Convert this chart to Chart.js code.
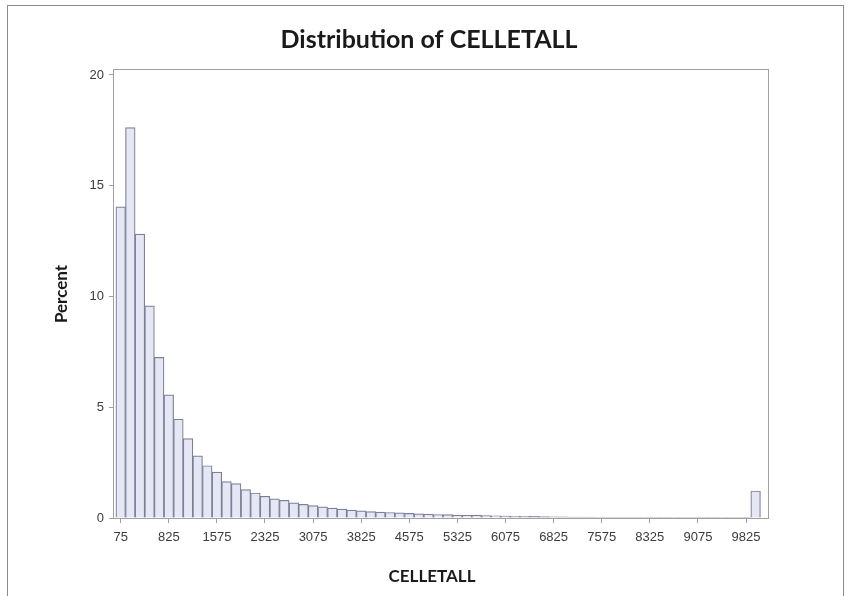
<!DOCTYPE html>
<html>
<head>
<meta charset="utf-8">
<script src="https://cdn.jsdelivr.net/npm/chart.js@4.4.0/dist/chart.umd.min.js"></script>
<style>
  html, body { margin: 0; padding: 0; background: #fff; }
  #wrap { width: 851px; height: 596px; position: relative; }
</style>
</head>
<body>
<div id="wrap"><canvas id="histChart" width="851" height="596"></canvas></div>
<script>
'use strict';
// ===================== data =====================
const binMidpoints = [
    75, 225, 375, 525, 675, 825, 975, 1125, 1275, 1425,
    1575, 1725, 1875, 2025, 2175, 2325, 2475, 2625, 2775, 2925,
    3075, 3225, 3375, 3525, 3675, 3825, 3975, 4125, 4275, 4425,
    4575, 4725, 4875, 5025, 5175, 5325, 5475, 5625, 5775, 5925,
    6075, 6225, 6375, 6525, 6675, 6825, 6975, 7125, 7275, 7425,
    7575, 7725, 7875, 8025, 8175, 8325, 8475, 8625, 8775, 8925,
    9075, 9225, 9375, 9525, 9675, 9825, 9975
];
const percentValues = [
    14.05, 17.62, 12.82, 9.58, 7.25, 5.56, 4.46, 3.58, 2.81, 2.36,
    2.07, 1.64, 1.55, 1.28, 1.13, 0.98, 0.86, 0.80, 0.68, 0.62,
    0.56, 0.50, 0.45, 0.40, 0.36, 0.32, 0.29, 0.27, 0.25, 0.23,
    0.21, 0.19, 0.17, 0.16, 0.15, 0.13, 0.12, 0.13, 0.11, 0.10,
    0.09, 0.08, 0.08, 0.07, 0.06, 0.05, 0.05, 0.04, 0.04, 0.04,
    0.03, 0.03, 0.03, 0.03, 0.03, 0.02, 0.02, 0.02, 0.02, 0.02,
    0.02, 0.02, 0.02, 0.02, 0.02, 0.02, 1.22
];
const xTickValues = [75, 825, 1575, 2325, 3075, 3825, 4575, 5325, 6075, 6825, 7575, 8325, 9075, 9825];
const yTickValues = [0, 5, 10, 15, 20];

const chartTitle = 'Distribution of CELLETALL';
const xTitle = 'CELLETALL';
const yTitle = 'Percent';

// ===================== chart =====================
const barFill   = '#e6e7f4';
const barLine   = '#7c7f96';
const frameGray = '#a0a0a0';
const tickText  = '#3c3c3c';

// frame + titles, drawn on top
const framePlugin = {
    id: 'framePlugin',
    afterDraw(chart) {
        const { ctx, chartArea: a } = chart;
        ctx.save();
        ctx.strokeStyle = frameGray;
        ctx.lineWidth = 1;
        ctx.strokeRect(a.left + 0.5, a.top + 0.5, a.right - a.left, a.bottom - a.top);
        ctx.strokeStyle = '#8a8a8a';
        ctx.strokeRect(7.5, 5.5, 836, 600);

        ctx.fillStyle = '#1a1a1a';
        ctx.textAlign = 'center';
        ctx.textBaseline = 'middle';
        ctx.font = 'bold 25px Lato';
        ctx.fillText(chartTitle, 429, 40);
        ctx.font = 'bold 17px Lato';
        ctx.fillText(xTitle, 432, 577);
        ctx.translate(62, 294);
        ctx.rotate(-Math.PI / 2);
        ctx.fillText(yTitle, 0, 0);
        ctx.restore();
    }
};

const tickFont = { family: 'Liberation Sans', size: 13 };

new Chart(document.getElementById('histChart').getContext('2d'), {
    type: 'bar',
    data: {
        datasets: [{
            label: 'Percent',
            data: binMidpoints.map((x, i) => ({ x, y: percentValues[i] })),
            backgroundColor: barFill,
            borderColor: barLine,
            borderWidth: 1.2,
            barPercentage: 1,
            categoryPercentage: 1,
        }]
    },
    options: {
        responsive: false,
        animation: false,
        layout: { padding: { left: 0, right: 83, top: 69, bottom: 0 } },
        plugins: { legend: { display: false }, tooltip: { enabled: false } },
        scales: {
            x: {
                type: 'linear',
                offset: false,
                min: -45,
                max: 10168,
                afterBuildTicks: s => { s.ticks = xTickValues.map(v => ({ value: v })); },
                afterFit: s => { s.height = 78; },
                grid: { drawOnChartArea: false, offset: false, color: frameGray, tickLength: 5 },
                border: { color: frameGray },
                ticks: {
                    color: tickText, font: tickFont, padding: 7, maxRotation: 0, autoSkip: false,
                    callback: v => String(v)
                }
            },
            y: {
                min: 0,
                max: 20.27,
                afterBuildTicks: s => { s.ticks = yTickValues.map(v => ({ value: v })); },
                afterFit: s => { s.width = 113; },
                grid: { drawOnChartArea: false, color: frameGray, tickLength: 4 },
                border: { color: frameGray },
                ticks: { color: tickText, font: tickFont, padding: 5 }
            }
        }
    },
    plugins: [framePlugin]
});
</script>
</body>
</html>
